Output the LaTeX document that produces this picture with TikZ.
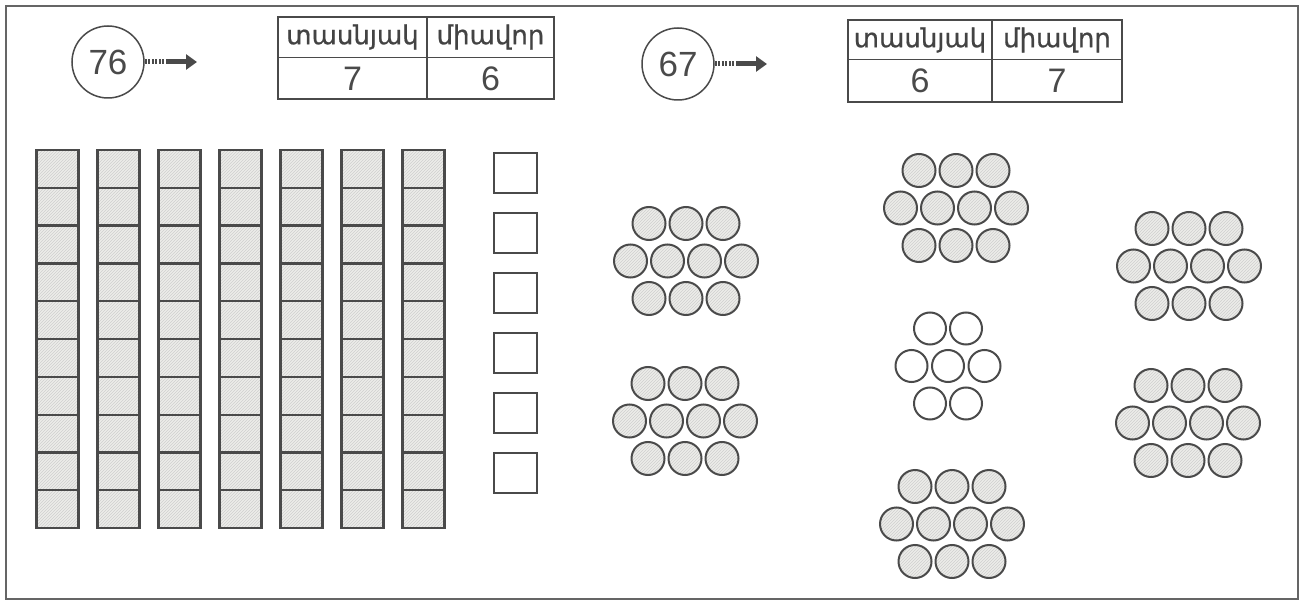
\documentclass[tikz,border=0pt]{standalone}
\usepackage{fontspec}
\setmainfont{Liberation Sans}
\newfontfamily\armfont[FakeBold=0.8]{DejaVu Sans}
\usetikzlibrary{patterns,arrows.meta}
\definecolor{ink}{HTML}{4A4A4A}
\definecolor{hatchfill}{HTML}{EDEDEA}
\begin{document}
\begin{tikzpicture}[x=1pt,y=-1pt,
  frame/.style={draw=ink!85, line width=2pt},
  cell/.style={draw=ink, line width=2.2pt, preaction={fill=hatchfill}, pattern=north east lines, pattern color=gray!38},
  single/.style={draw=ink, line width=2.2pt},
  bead/.style={draw=ink, line width=2pt, preaction={fill=hatchfill}, pattern=north east lines, pattern color=gray!38},
  ebead/.style={draw=ink, line width=2pt, fill=white},
  numcirc/.style={circle, draw=ink, line width=1.5pt, minimum size=72pt, inner sep=0pt, font=\fontsize{35}{35}\selectfont, text=ink},
  tab/.style={draw=ink, line width=1.8pt},
  hdr/.style={font=\armfont\fontsize{26}{26}\selectfont, text=ink!90!black, inner sep=0pt},
  num/.style={font=\fontsize{34}{34}\selectfont, text=ink, inner sep=0pt},
  dotstem/.style={draw=ink, line width=5pt, dash pattern=on 2pt off 1.5pt},
  solidstem/.style={draw=ink, line width=5pt, -{Triangle[length=11pt,width=15pt]}},
  tenclust/.pic={
    \foreach \x in {-37,0,37}{
      \draw[bead] (\x,-37.5) circle (16.5pt);
      \draw[bead] (\x,37.5) circle (16.5pt);
    }
    \foreach \x in {-55.5,-18.5,18.5,55.5}{
      \draw[bead] (\x,0) circle (16.5pt);
    }
  },
  sevenclust/.pic={
    \foreach \x in {-18,18}{
      \draw[ebead] (\x,-37.5) circle (16pt);
      \draw[ebead] (\x,37.5) circle (16pt);
    }
    \foreach \x in {-36.5,0,36.5}{
      \draw[ebead] (\x,0) circle (16pt);
    }
  }
]
\useasboundingbox (0,0) rectangle (1304,604);
\draw[frame] (6,6) rectangle (1298,599);

% 76
\node[numcirc] (c76) at (108,62) {76};
\coordinate (m76) at (167,62);
\coordinate (e76) at (197,62);
\draw[dotstem] (c76.east) -- (m76);
\draw[solidstem] (m76) -- (e76);

\draw[tab] (278,17) rectangle (554,99);
\draw[tab] (278,57.5) -- (554,57.5);
\draw[tab] (427,17) -- (427,99);
\node[hdr] (h1a) at (352.5,37) {տասնյակ};
\node[hdr] (h1b) at (490.5,37) {միավոր};
\node[num] (n1a) at (352.5,78.5) {7};
\node[num] (n1b) at (490.5,78.5) {6};

% 67
\node[numcirc] (c67) at (678,64) {67};
\coordinate (m67) at (737,64);
\coordinate (e67) at (767,64);
\draw[dotstem] (c67.east) -- (m67);
\draw[solidstem] (m67) -- (e67);

\draw[tab] (848,20) rectangle (1122,102);
\draw[tab] (848,59.5) -- (1122,59.5);
\draw[tab] (992,20) -- (992,102);
\node[hdr] (h2a) at (920,40) {տասնյակ};
\node[hdr] (h2b) at (1057,40) {միավոր};
\node[num] (n2a) at (920,81) {6};
\node[num] (n2b) at (1057,81) {7};

% tens columns
\foreach \i in {0,...,6}{
  \foreach \j in {0,...,9}{
    \draw[cell] ({36.5+61*\i},{150+37.8*\j}) rectangle ++(42,37.8);
  }
}
% units
\foreach \j in {0,...,5}{
  \draw[single] (494,{153+60*\j}) rectangle ++(43,40);
}

% bead clusters
\pic at (686,261) {tenclust};
\pic at (685,421) {tenclust};
\pic at (956,208) {tenclust};
\pic at (952,524) {tenclust};
\pic at (1189,266) {tenclust};
\pic at (1188,423) {tenclust};
\pic at (948,366) {sevenclust};
\end{tikzpicture}
\end{document}
